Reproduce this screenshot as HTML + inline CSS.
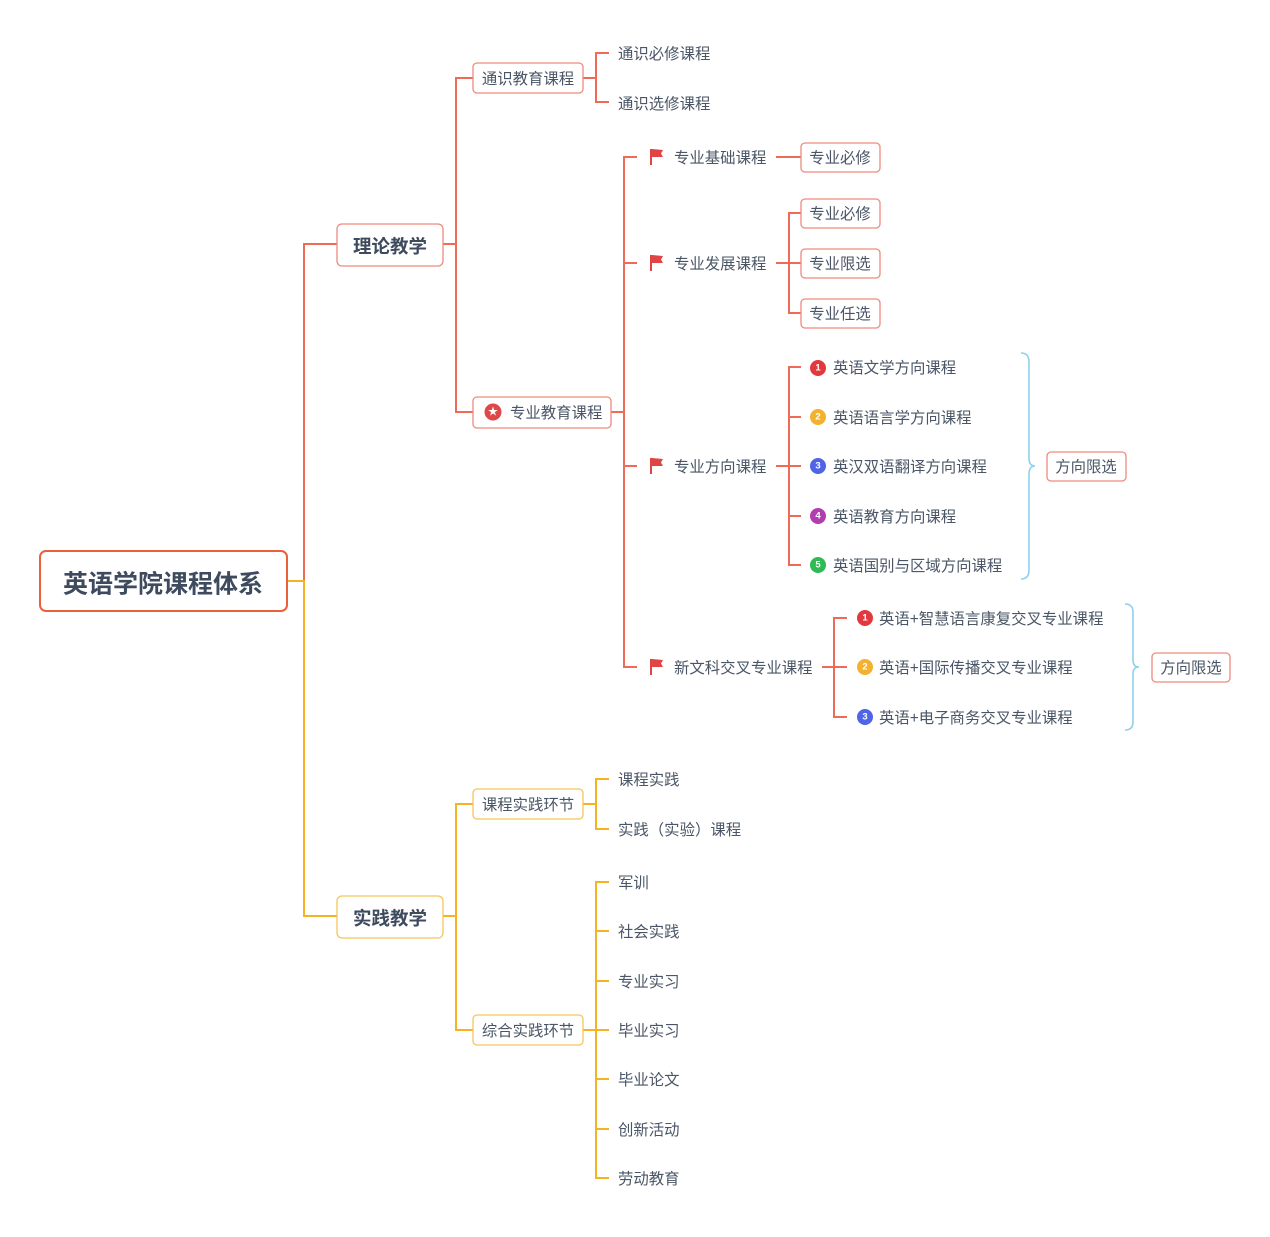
<!DOCTYPE html>
<html><head><meta charset="utf-8"><style>
html,body{margin:0;padding:0;background:#fff;}
svg text{font-family:"Liberation Sans","Noto Sans CJK SC",sans-serif;fill:#4a5566;font-size:15.4px;dominant-baseline:central;}
</style></head><body>
<svg width="1270" height="1232" viewBox="0 0 1270 1232" xmlns="http://www.w3.org/2000/svg">
<defs>
<g id="flag"><rect x="0" y="-8" width="2" height="16" fill="#e04444"/><path d="M2,-8 L13,-7 L11,-3.5 L13,0 L2,0 Z" fill="#e04444"/></g>
</defs>
<g fill="none" stroke-width="2">
<path d="M337,244 H304 V581" stroke="#ef6b58"/>
<path d="M287,581 H304 V916 H337" stroke="#f5b324"/>
<path d="M443,244 H456 M473,78 H456 V412 H473" stroke="#ef6b58"/>
<path d="M583,78 H596 M609,53 H596 V102 H609" stroke="#ef6b58"/>
<path d="M611,412 H624 M637,157 H624 V667 H637 M637,263 H624 M637,466 H624" stroke="#ef6b58"/>
<path d="M776,157 H801" stroke="#ef6b58"/>
<path d="M776,263 H801 M801,213 H789 V313 H801" stroke="#ef6b58"/>
<path d="M776,466 H801 M801,367 H789 V565 H801 M789,417 H801 M789,516 H801" stroke="#ef6b58"/>
<path d="M822,667 H847 M847,618 H834 V717 H847" stroke="#ef6b58"/>
<path d="M443,916 H456 M473,804 H456 V1030 H473" stroke="#f5b324"/>
<path d="M583,804 H596 M609,779 H596 V829 H609" stroke="#f5b324"/>
<path d="M583,1030 H609 M609,882 H596 V1178 H609 M596,931 H609 M596,981 H609 M596,1079 H609 M596,1129 H609" stroke="#f5b324"/>
</g>
<g fill="none" stroke="#8fd0ef" stroke-width="1.6">
<path d="M1021,353 Q1029,353 1029,362 V458 Q1029,466 1035,466 Q1029,466 1029,474 V570 Q1029,579 1021,579"/>
<path d="M1125,604 Q1133,604 1133,612 V660 Q1133,667 1139,667 Q1133,667 1133,674 V722 Q1133,730 1125,730"/>
</g>
<g stroke-width="1.3" fill="#fff">
<rect x="40" y="551" width="247" height="60" rx="6" stroke="#e8613a" stroke-width="2"/>
<rect x="337" y="224" width="106" height="42" rx="5" stroke="#ef8a7c"/>
<rect x="337" y="896" width="106" height="42" rx="5" stroke="#f5c55a"/>
<rect x="473" y="63" width="110" height="30" rx="4" stroke="#ef8a7c"/>
<rect x="473" y="397" width="138" height="31" rx="4" stroke="#ef8a7c"/>
<rect x="801" y="143" width="79" height="29" rx="4" stroke="#ef8a7c"/>
<rect x="801" y="199" width="79" height="29" rx="4" stroke="#ef8a7c"/>
<rect x="801" y="249" width="79" height="29" rx="4" stroke="#ef8a7c"/>
<rect x="801" y="299" width="79" height="29" rx="4" stroke="#ef8a7c"/>
<rect x="1047" y="452" width="79" height="29" rx="4" stroke="#ef8a7c"/>
<rect x="1152" y="653" width="78" height="29" rx="4" stroke="#ef8a7c"/>
<rect x="473" y="789" width="110" height="30" rx="4" stroke="#f5c55a"/>
<rect x="473" y="1015" width="110" height="30" rx="4" stroke="#f5c55a"/>
</g>
<g transform="translate(0,1.5)">
<text x="163" y="583" text-anchor="middle" style="font-size:25px;font-weight:bold;fill:#3e4b5e">英语学院课程体系</text>
<text x="390" y="245" text-anchor="middle" style="font-size:18.5px;font-weight:bold;fill:#3e4b5e">理论教学</text>
<text x="390" y="917" text-anchor="middle" style="font-size:18.5px;font-weight:bold;fill:#3e4b5e">实践教学</text>
<text x="528" y="78" text-anchor="middle">通识教育课程</text>
<text x="618" y="53">通识必修课程</text>
<text x="618" y="103">通识选修课程</text>
<text x="510" y="412">专业教育课程</text>
<text x="674" y="157">专业基础课程</text>
<text x="674" y="263">专业发展课程</text>
<text x="674" y="466">专业方向课程</text>
<text x="674" y="667">新文科交叉专业课程</text>
<text x="840" y="157" text-anchor="middle">专业必修</text>
<text x="840" y="213" text-anchor="middle">专业必修</text>
<text x="840" y="263" text-anchor="middle">专业限选</text>
<text x="840" y="313" text-anchor="middle">专业任选</text>
<text x="833" y="367">英语文学方向课程</text>
<text x="833" y="417">英语语言学方向课程</text>
<text x="833" y="466">英汉双语翻译方向课程</text>
<text x="833" y="516">英语教育方向课程</text>
<text x="833" y="565">英语国别与区域方向课程</text>
<text x="879" y="618">英语+智慧语言康复交叉专业课程</text>
<text x="879" y="667">英语+国际传播交叉专业课程</text>
<text x="879" y="717">英语+电子商务交叉专业课程</text>
<text x="1086" y="466" text-anchor="middle">方向限选</text>
<text x="1191" y="667" text-anchor="middle">方向限选</text>
<text x="528" y="804" text-anchor="middle">课程实践环节</text>
<text x="528" y="1030" text-anchor="middle">综合实践环节</text>
<text x="618" y="779">课程实践</text>
<text x="618" y="829">实践（实验）课程</text>
<text x="618" y="882">军训</text>
<text x="618" y="931">社会实践</text>
<text x="618" y="981">专业实习</text>
<text x="618" y="1030">毕业实习</text>
<text x="618" y="1079">毕业论文</text>
<text x="618" y="1129">创新活动</text>
<text x="618" y="1178">劳动教育</text>
</g>
<circle cx="493" cy="412" r="8.5" fill="#e04848"/>
<text x="493" y="412.5" text-anchor="middle" style="font-size:10px;fill:#fff">★</text>
<use href="#flag" x="650" y="157"/>
<use href="#flag" x="650" y="263"/>
<use href="#flag" x="650" y="466"/>
<use href="#flag" x="650" y="667"/>
<g>
<circle cx="818" cy="368" r="8" fill="#e2393f"/><text x="818" y="368" text-anchor="middle" style="font-size:9.5px;font-weight:bold;fill:#fff">1</text>
<circle cx="818" cy="417" r="8" fill="#f2b12e"/><text x="818" y="417" text-anchor="middle" style="font-size:9.5px;font-weight:bold;fill:#fff">2</text>
<circle cx="818" cy="466" r="8" fill="#5064e6"/><text x="818" y="466" text-anchor="middle" style="font-size:9.5px;font-weight:bold;fill:#fff">3</text>
<circle cx="818" cy="516" r="8" fill="#b23db0"/><text x="818" y="516" text-anchor="middle" style="font-size:9.5px;font-weight:bold;fill:#fff">4</text>
<circle cx="818" cy="565" r="8" fill="#2fba55"/><text x="818" y="565" text-anchor="middle" style="font-size:9.5px;font-weight:bold;fill:#fff">5</text>
<circle cx="865" cy="618" r="8" fill="#e2393f"/><text x="865" y="618" text-anchor="middle" style="font-size:9.5px;font-weight:bold;fill:#fff">1</text>
<circle cx="865" cy="667" r="8" fill="#f2b12e"/><text x="865" y="667" text-anchor="middle" style="font-size:9.5px;font-weight:bold;fill:#fff">2</text>
<circle cx="865" cy="717" r="8" fill="#5064e6"/><text x="865" y="717" text-anchor="middle" style="font-size:9.5px;font-weight:bold;fill:#fff">3</text>
</g>
</svg>
</body></html>
